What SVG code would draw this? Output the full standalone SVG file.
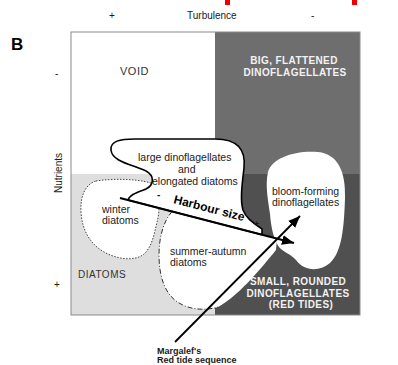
<svg xmlns="http://www.w3.org/2000/svg" width="398" height="365" viewBox="0 0 398 365">
<style>
text{font-family:"Liberation Sans",Arial,Helvetica,sans-serif;fill:#1a1a1a}
.lbl{font-size:10.5px}
.axis{font-size:10px}
.wb{font-size:10px;font-weight:bold;fill:#f2f2f2;letter-spacing:0.4px;text-anchor:middle}
.cap{font-size:10px;letter-spacing:0.5px;fill:#333}
.mg{font-size:9px;font-weight:bold}
.blob{fill:#fff}
</style>
<defs>
<marker id="ah" markerWidth="12" markerHeight="10" refX="12" refY="5" orient="auto" markerUnits="userSpaceOnUse"><path d="M0,0 L12,5 L0,10 Z" fill="#000"/></marker>
</defs>
<rect width="398" height="365" fill="#fff"/>
<rect x="225" y="0" width="5" height="5" fill="#e00"/>
<rect x="352" y="0" width="5" height="5" fill="#e00"/>
<g id="axes">
<text class="axis" x="109" y="19">+</text>
<text class="axis" x="187" y="19">Turbulence</text>
<text class="axis" x="311" y="19">-</text>
<text x="11" y="50" style="font-size:17px;font-weight:bold;fill:#000">B</text>
<text class="axis" x="55" y="77">-</text>
<text class="axis" x="54" y="288">+</text>
<text class="axis" transform="translate(62,193) rotate(-90)">Nutrients</text>
</g>
<g id="quadrants">
<rect x="71" y="32" width="144" height="142" fill="#fff"/>
<rect x="71" y="174" width="144" height="141" fill="#dedede"/>
<rect x="215" y="32" width="145" height="142" fill="#6e6e6e"/>
<rect x="215" y="174" width="145" height="141" fill="#505050"/>
<rect x="71" y="32" width="289" height="283" fill="none" stroke="#8a8a8a" stroke-width="1"/>
<text class="cap" x="120" y="75" style="font-size:11px">VOID</text>
<text class="wb" x="294" y="64">BIG, FLATTENED</text>
<text class="wb" x="295" y="76">DINOFLAGELLATES</text>
<text class="cap" x="78" y="278">DIATOMS</text>
<text class="wb" x="298" y="285">SMALL, ROUNDED</text>
<text class="wb" x="298" y="297">DINOFLAGELLATES</text>
<text class="wb" x="301" y="308">(RED TIDES)</text>
</g>
<g id="winter">
<path class="blob" d="M96,181 C115,178 145,179 155,185 C160,195 160,212 157,222 C154,235 152,245 146,252 C138,262 118,260 104,252 C90,244 82,230 81,212 C80,195 86,184 96,181 Z" stroke="#444" stroke-width="1" stroke-dasharray="1.5,1.5"/>
<text class="lbl" x="102" y="213">winter</text>
<text class="lbl" x="102" y="224">diatoms</text>
</g>
<g id="summer">
<path class="blob" d="M172,211.5 C163,222 159,238 159,255 C159,275 164,292 176,301 C188,310 205,311 218,307 C238,296 258,272 276,250 L277,238.7 Z"/>
<path d="M172,211.5 C163,222 159,238 159,255 C159,275 164,292 176,301 C188,310 205,311 218,307" fill="none" stroke="#333" stroke-width="1" stroke-dasharray="5,2,1,2"/>
<text class="lbl" x="170" y="255">summer-autumn</text>
<text class="lbl" x="170" y="266">diatoms</text>
</g>
<g id="large">
<path class="blob" d="M128,201 C128,195 138,192 146,189 C154,185 155,176 146,171 C134,165 112,162 111,150 C110,141 120,139 135,139 L215,139 C238,139 246,150 244,168 C242,185 240,200 243,210 C246,218 252,222 262,229 L262,234.8 L128,200.1 Z" stroke="#000" stroke-width="1.6"/>
<text class="lbl" x="138" y="161">large dinoflagellates</text>
<text class="lbl" x="178" y="173">and</text>
<text class="lbl" x="152" y="185">elongated diatoms</text>
</g>
<g id="bloom">
<path class="blob" d="M268,172 C272,158 295,150 318,152 C338,154 346,172 345,198 C344,228 342,252 330,263 C318,273 303,270 296,260 C291,254 283,252 279,247 C274,240 271,228 270,214 C268,200 265,185 268,172 Z"/>
<text class="lbl" x="272" y="195">bloom-forming</text>
<text class="lbl" x="272" y="206">dinoflagellates</text>
</g>
<g id="connectors">
<line x1="120" y1="198" x2="294" y2="243" stroke="#000" stroke-width="2.2" marker-end="url(#ah)"/>
<line x1="175" y1="342" x2="300" y2="216" stroke="#000" stroke-width="1.8" marker-end="url(#ah)"/>
<text transform="translate(173,203) rotate(14.5)" style="font-size:12px;font-weight:bold;fill:#000">Harbour size</text>
<text x="157" y="198" style="font-size:10px;font-weight:bold">-</text>
<text x="254" y="227" style="font-size:9px;font-weight:bold">+</text>
<text class="mg" x="157" y="354">Margalef's</text>
<text class="mg" x="157" y="363">Red tide sequence</text>
</g>
</svg>
